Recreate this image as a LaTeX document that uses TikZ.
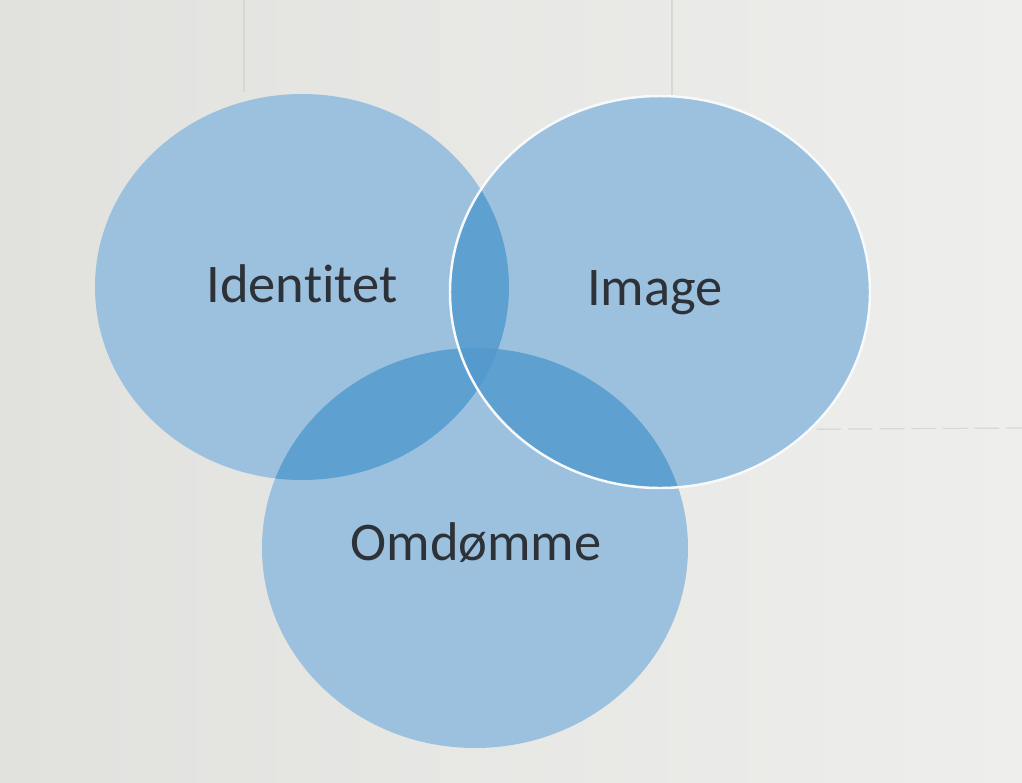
\documentclass[tikz,border=0pt]{standalone}
\usepackage{fontspec}
\setmainfont[Ligatures=NoCommon]{Carlito}
\definecolor{paperL}{RGB}{225,225,222}
\definecolor{paperR}{RGB}{238,238,236}
\definecolor{one}{RGB}{156,193,222}
\definecolor{two}{RGB}{94,160,207}
\definecolor{three}{RGB}{84,154,204}
\definecolor{ink}{RGB}{45,50,56}
\definecolor{rule}{RGB}{215,215,212}
\tikzset{
  label/.style={font=\fontsize{31}{36}\selectfont, text=ink, anchor=base, inner sep=0pt},
  rim/.style={draw=white!92!one, line width=1.4pt},
  faint/.style={draw=rule, line width=0.7pt}
}
\begin{document}
\begin{tikzpicture}[x=0.02cm,y=-0.02cm]
  % page
  \useasboundingbox (0,0) rectangle (1022,782);
  \shade[left color=paperL, right color=paperR] (0,0) rectangle (1022,782);
  % faint table rules of the page
  \draw[faint] (244,0) -- (244,92);
  \draw[faint] (672,0) -- (672,100);
  \draw[faint, dash pattern=on 14pt off 4pt] (690,430) -- (1022,428);

  % the three sets
  \def\pathA{(302,287) ellipse [x radius=207, y radius=193]}
  \def\pathB{(660,292) ellipse [x radius=210, y radius=196]}
  \def\pathC{(475,548) ellipse [x radius=213, y radius=200]}

  \fill[one] \pathA;
  \fill[one] \pathC;
  \fill[one] \pathB;
  % pairwise overlaps
  \begin{scope}
    \clip \pathA;
    \fill[two] \pathB;
    \fill[two] \pathC;
  \end{scope}
  \begin{scope}
    \clip \pathB;
    \fill[two] \pathC;
  \end{scope}
  % common part
  \begin{scope}
    \clip \pathA;
    \clip \pathB;
    \fill[three] \pathC;
  \end{scope}
  % light rim on the top set
  \draw[rim] \pathB;

  \node[label] (identitet) at (302,302) {Identitet};
  \node[label] (image) at (655,305) {Image};
  \node[label] (omdomme) at (476,560) {Omdømme};
\end{tikzpicture}
\end{document}
